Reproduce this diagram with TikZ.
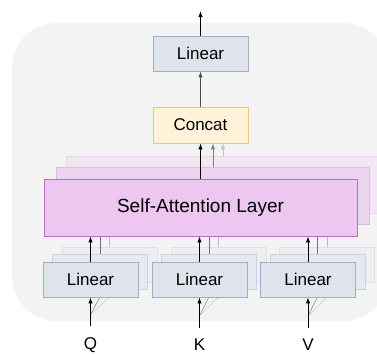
\documentclass[tikz,border=0pt]{standalone}
\usepackage{fontspec}
\setmainfont{Liberation Sans}
\usetikzlibrary{arrows.meta}
\usetikzlibrary{calc}

\definecolor{bgray}{HTML}{F3F3F3}
\definecolor{linfill}{HTML}{DEE3EC}
\definecolor{linedge}{HTML}{9DB0C8}
\definecolor{linfillb}{HTML}{E6E9EF}
\definecolor{linedgeb}{HTML}{CDD3DD}
\definecolor{linfillc}{HTML}{ECEEF1}
\definecolor{linedgec}{HTML}{DCE0E7}
\definecolor{catfill}{HTML}{FEF3D9}
\definecolor{catedge}{HTML}{E5C67D}
\definecolor{safill}{HTML}{EEC7F0}
\definecolor{saedge}{HTML}{B86DC9}
\definecolor{safillb}{HTML}{ECD3EE}
\definecolor{saedgeb}{HTML}{DDBDE2}
\definecolor{safillc}{HTML}{F1E6F2}
\definecolor{saedgec}{HTML}{E8D6EA}

\begin{document}
\begin{tikzpicture}[x=1pt,y=-1pt,
    box/.style={inner sep=0pt, line width=0.8pt, font=\fontsize{17}{20}\selectfont},
    lin/.style={box, draw=linedge, fill=linfill, minimum width=95pt, minimum height=35pt},
    cat/.style={box, draw=catedge, fill=catfill, minimum width=95pt, minimum height=36pt},
    sa/.style={box, draw=saedge, fill=safill, minimum width=313pt, minimum height=57pt,
        font=\fontsize{19}{22}\selectfont},
    lab/.style={inner sep=0pt, outer ysep=11pt, font=\fontsize{17}{20}\selectfont},
    arr/.style={-{Latex[length=6pt,width=4.5pt]}, line width=1pt}]
        \useasboundingbox (0,0) rectangle (377,354);
        \clip (0,0) rectangle (377,354);
        \fill [bgray, rounded corners=45pt] (12,23) rectangle (388,321);
        % output side
        \node [lin] (out) at (200.5,53.5) {Linear};
        \node [cat] (cat) at (200.5,125) {Concat};
        \coordinate (top) at (200.5,11);
        \draw [arr] (out.north) -- (top);
        \draw [arr, black!70] (cat.north) -- (out.south);
        % stacked attention heads, the front one is drawn last
        \node [sa, draw=saedgec, fill=safillc] (sa3) at (223,184.5) {};
        \node [sa, draw=saedgeb, fill=safillb] (sa2) at (213,195.5) {};
        \draw [arr, black!25] (sa3.north) -- (sa3.north |- cat.south);
        \draw [arr, black!50] (sa2.north) -- (sa2.north |- cat.south);
        % one stack of projections per input
        \foreach \i/\x/\t in {1/90.5/Q, 2/199.5/K, 3/308/V} {
            \node [lab] (in\i) at (\x,345) {\t};
            \coordinate (split\i) at ($(in\i.north)!0.4!(\x,297)$);
            \node [lin, draw=linedgec, fill=linfillc] (lin\i c) at (\x+19,264.5) {};
            \node [lin, draw=linedgeb, fill=linfillb] (lin\i b) at (\x+9.5,272) {};
            \draw [black!25] (split\i) -- (lin\i c.south |- {(\x,297)});
            \draw [black!55] (split\i) -- (lin\i b.south |- {(\x,297)});
            \draw [arr, black!25] (lin\i c.north) -- (lin\i c.north |- sa3.south);
            \draw [arr, black!55] (lin\i b.north) -- (lin\i b.north |- sa2.south);
            \node [lin] (lin\i) at (\x,279.5) {Linear};
            \draw [arr] (in\i.north) -- (lin\i.south);
        }
        \node [sa] (sa1) at (200.5,207.5) {Self-Attention Layer};
        \draw [arr] (sa1.north) -- (cat.south);
        \foreach \i in {1,2,3}
            \draw [arr] (lin\i.north) -- (lin\i.north |- sa1.south);
    \end{tikzpicture}
\end{document}
